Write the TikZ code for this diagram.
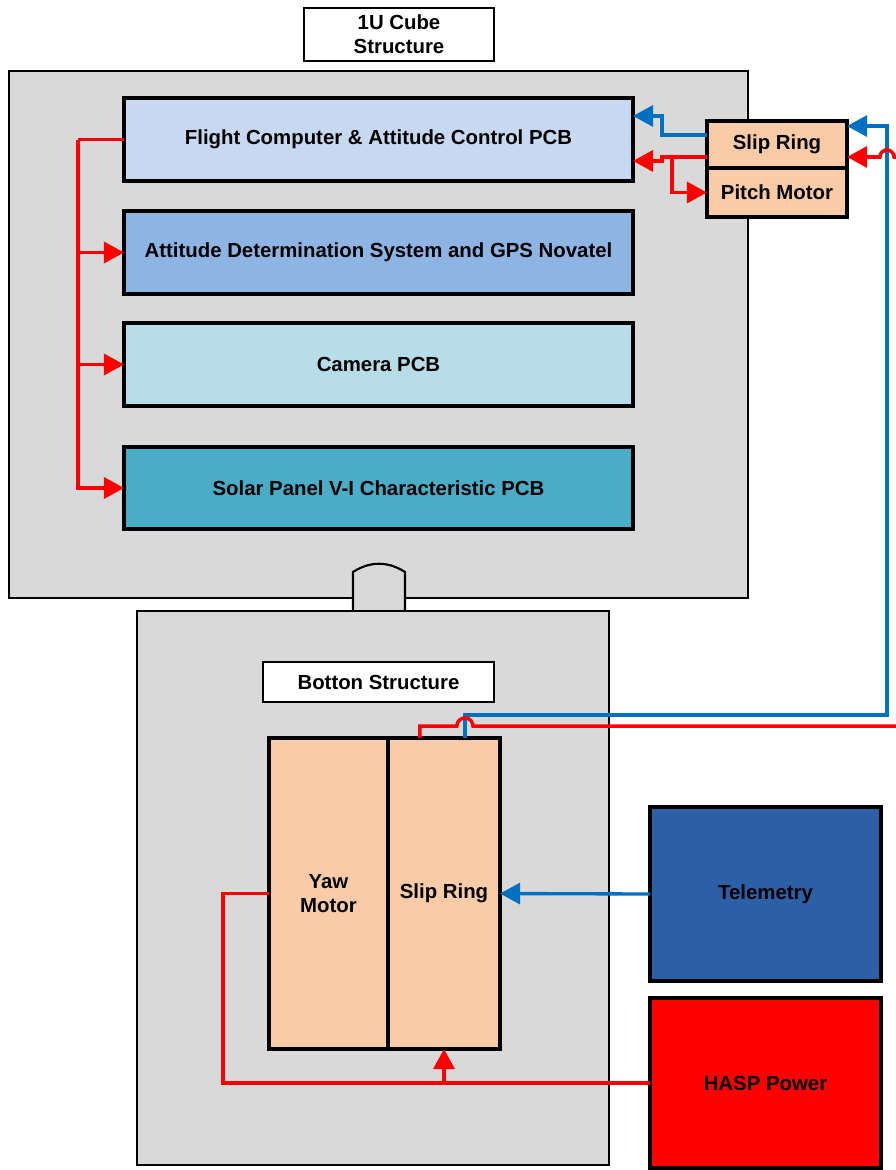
\documentclass[tikz,border=0pt]{standalone}
\usepackage{fontspec}
\setmainfont{Liberation Sans}
\usetikzlibrary{arrows.meta}
\definecolor{struct}{HTML}{D9D9D9}
\definecolor{fcblue}{HTML}{C6D9F1}
\definecolor{adsblue}{HTML}{8EB4E3}
\definecolor{camblue}{HTML}{B7DEE8}
\definecolor{solarblue}{HTML}{4BACC6}
\definecolor{peach}{HTML}{F9CBA7}
\definecolor{tlmblue}{HTML}{2B5FA6}
\definecolor{wireblue}{HTML}{0070C0}
\definecolor{wirered}{HTML}{FF0000}
\begin{document}
\begin{tikzpicture}[x=0.02cm,y=-0.02cm,
    font=\bfseries\fontsize{11.6}{13.5}\selectfont,
    frame/.style={draw,line width=1.2pt,fill=struct,inner sep=0pt,outer sep=0pt},
    label box/.style={draw,line width=1.5pt,fill=white,inner sep=0pt,outer sep=0pt,align=center},
    pcb/.style={draw,line width=2.5pt,inner sep=0pt,outer sep=0pt,
      minimum width=10.18cm,minimum height=1.66cm},
    part/.style={draw,line width=2.5pt,fill=peach,inner sep=0pt,outer sep=0pt,align=center},
    power/.style={draw=wirered,line width=2pt},
    data/.style={draw=wireblue,line width=1.9pt},
    >={Triangle[length=11.5pt,width=12pt]}]
  \useasboundingbox (0,0) rectangle (896,1170);
  % upper cube
  \node[frame,minimum width=14.78cm,minimum height=10.54cm] (cube) at (378.5,334.5) {};
  \node[label box,minimum width=3.8cm,minimum height=1.06cm] (cubetitle) at (399,34.5) {1U Cube\\Structure};
  \node[pcb,fill=fcblue] (fc) at (378.5,139.5) {Flight Computer \& Attitude Control PCB};
  \node[pcb,fill=adsblue] (ads) at (378.5,252.5) {Attitude Determination System and GPS Novatel};
  \node[pcb,fill=camblue] (cam) at (378.5,364.5) {Camera PCB};
  \node[pcb,fill=solarblue,minimum height=1.64cm] (solar) at (378.5,488) {Solar Panel V-I Characteristic PCB};
  \node[part,minimum width=2.8cm,minimum height=0.94cm] (srtop) at (777,144.5) {Slip Ring};
  \node[part,minimum width=2.8cm,minimum height=0.98cm] (pitch) at (777,192.5) {Pitch Motor};
  % joint between the structures
  \draw[line width=1.2pt,fill=struct] (353,612) -- (353,572) .. controls (370,561) and (388,561) .. (405,572) -- (405,612);
  % bottom structure
  \node[frame,minimum width=9.44cm,minimum height=11.08cm] (base) at (373,888) {};
  \node[label box,minimum width=4.62cm,minimum height=0.8cm] (basetitle) at (378.5,682) {Botton Structure};
  \node[part,minimum width=2.38cm,minimum height=6.22cm] (yaw) at (328.5,893.5) {Yaw\\Motor};
  \node[part,minimum width=2.24cm,minimum height=6.22cm] (srbot) at (444,893.5) {Slip Ring};
  \node[draw,line width=2.5pt,fill=tlmblue,inner sep=0pt,outer sep=0pt,
    minimum width=4.62cm,minimum height=3.48cm] (tlm) at (765.5,894) {Telemetry};
  \node[draw,line width=2.5pt,fill=wirered,inner sep=0pt,outer sep=0pt,
    minimum width=4.62cm,minimum height=3.4cm] (hasp) at (765.5,1083) {HASP Power};
  % free ends leaving the page
  \coordinate (feedtop) at (896,157);
  \coordinate (feedbot) at (896,726);
  \begin{scope}[line join=miter]
    % power bus in the cube
    \draw[power] (fc.west) -- ++(-46,0) coordinate (bus);
    \draw[power,->] (bus) |- (solar.west);
    \draw[power,->] (bus |- ads.west) -- (ads.west);
    \draw[power,->] (bus |- cam.west) -- (cam.west);
    % upper slip ring
    \draw[data,->] ([yshift=5.4pt]srtop.west) -- ++(-45,0) |- ([yshift=13.4pt]fc.east);
    \draw[power,->] ([yshift=-7.1pt]srtop.west) -- ++(-45,0) |- ([yshift=-12.2pt]fc.east);
    \draw[power,->] ([yshift=-7.1pt]srtop.west) ++(-35,0) |- (pitch.west);
    \draw[data,->] ([xshift=12pt]srbot.north) |- (887,715) |- ([yshift=10.5pt]srtop.east);
    \draw[power,->] (feedtop) -- (894,157) arc[start angle=0,end angle=180,radius=4pt]
      -- ([yshift=-7.1pt]srtop.east);
    % lower slip ring
    \draw[power] (feedbot) -- (473,726) arc[start angle=0,end angle=180,radius=4.6pt]
      -| ([xshift=-13.7pt]srbot.north);
    \draw[data,->] (tlm.west) -- (srbot.east);
    \draw[power] (hasp.west) -- ++(-427,0) |- (yaw.west);
    \draw[power,->] (hasp.west -| srbot.south) -- (srbot.south);
  \end{scope}
\end{tikzpicture}
\end{document}
